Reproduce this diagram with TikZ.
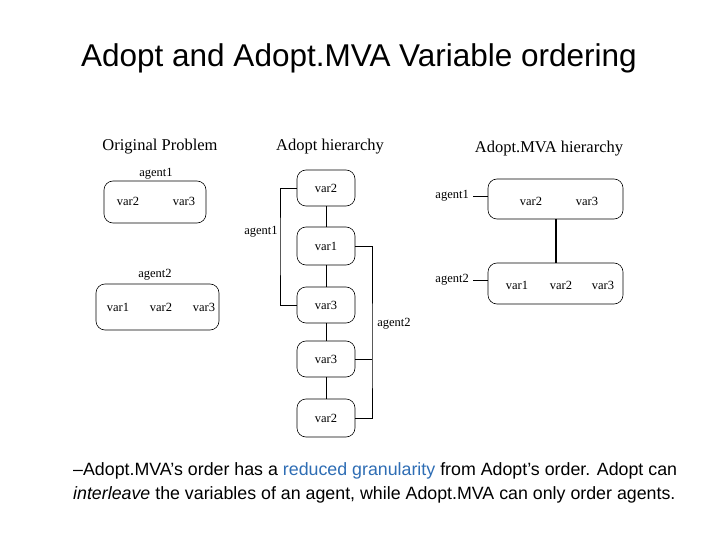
\documentclass[tikz,border=0pt]{standalone}
\usepackage{fontspec}
\setmainfont{Liberation Serif}
\newfontfamily\sansf{Liberation Sans}
\begin{document}
\begin{tikzpicture}[x=1pt,y=-1pt,
  bx/.style={draw,rounded corners=9pt,line width=0.6pt},
  t/.style={font=\fontsize{12.5}{14}\selectfont,inner sep=1pt},
  h/.style={font=\fontsize{16.5}{18}\selectfont},
  ln/.style={line width=0.7pt}]
\useasboundingbox (0,0) rectangle (720,540);
\node[font=\sansf\fontsize{31.5}{36}\selectfont] (title) at (359,58) {Adopt and Adopt.MVA Variable ordering};
\node[h] (h1) at (160,147) {Original Problem};
\node[h] (h2) at (330,147) {Adopt hierarchy};
\node[h] (h3) at (549,149) {Adopt.MVA hierarchy};
% original
\node[bx,minimum width=102pt,minimum height=42pt] (o1) at (155,202) {};
\node[t] (o1l) at (156,174) {agent1};
\node[t] (o1a) at (128,201) {var2};
\node[t] (o1b) at (184,201) {var3};
\node[bx,minimum width=123pt,minimum height=46pt] (o2) at (157.5,307) {};
\node[t] (o2l) at (155,275) {agent2};
\node[t] (o2a) at (118,307) {var1};
\node[t] (o2b) at (161,307) {var2};
\node[t] (o2c) at (204,307) {var3};
% adopt
\foreach \n/\y/\h/\v in {a1/188/36/var2,a2/246/38/var1,a3/305/36/var3,a4/359/36/var3,a5/418/38/var2}
  \node[bx,t,minimum width=58pt,minimum height=\h pt,inner sep=0pt] (\n) at (326,\y) {\v};
\draw[ln] (a1)--(a2) (a2)--(a3) (a3)--(a4) (a4)--(a5);
\draw[ln] (a1.west) -| (280,246) |- (a3.west);
\node[t] (al1) at (261,232) {agent1};
\draw[ln] (a2.east) -| (372,359) |- (a5.east);
\draw[ln] (a4.east) -- (372,359);
\node[t] (al2) at (394,324) {agent2};
% mva
\node[bx,minimum width=135pt,minimum height=40pt] (m1) at (555.5,199) {};
\node[bx,minimum width=135pt,minimum height=41pt] (m2) at (555.5,283.5) {};
\node[t] (m1a) at (531,201) {var2};
\node[t] (m1b) at (587,201) {var3};
\node[t] (m2a) at (517,285) {var1};
\node[t] (m2b) at (561,285) {var2};
\node[t] (m2c) at (603,285) {var3};
\node[t,anchor=east] (ml1) at (470,196) {agent1};
\node[t,anchor=east] (ml2) at (470,280) {agent2};
\draw[ln] ([xshift=3pt]ml1.east) -- (m1.west|-ml1.east);
\draw[ln] ([xshift=3pt]ml2.east) -- (m2.west|-ml2.east);
\draw[line width=1.3pt] (556,219) -- (556,263);
% bottom text
\node[anchor=west,font=\sansf\fontsize{17.8}{24}\selectfont,inner sep=0pt] (b1) at (73,471) {–Adopt.MVA’s order has a \textcolor[HTML]{2E6DB4}{reduced granularity} from Adopt’s order. Adopt can};
\node[anchor=west,font=\sansf\fontsize{17.8}{24}\selectfont,inner sep=0pt] (b2) at (73,495) {\textit{interleave} the variables of an agent, while Adopt.MVA can only order agents.};
\end{tikzpicture}
\end{document}
